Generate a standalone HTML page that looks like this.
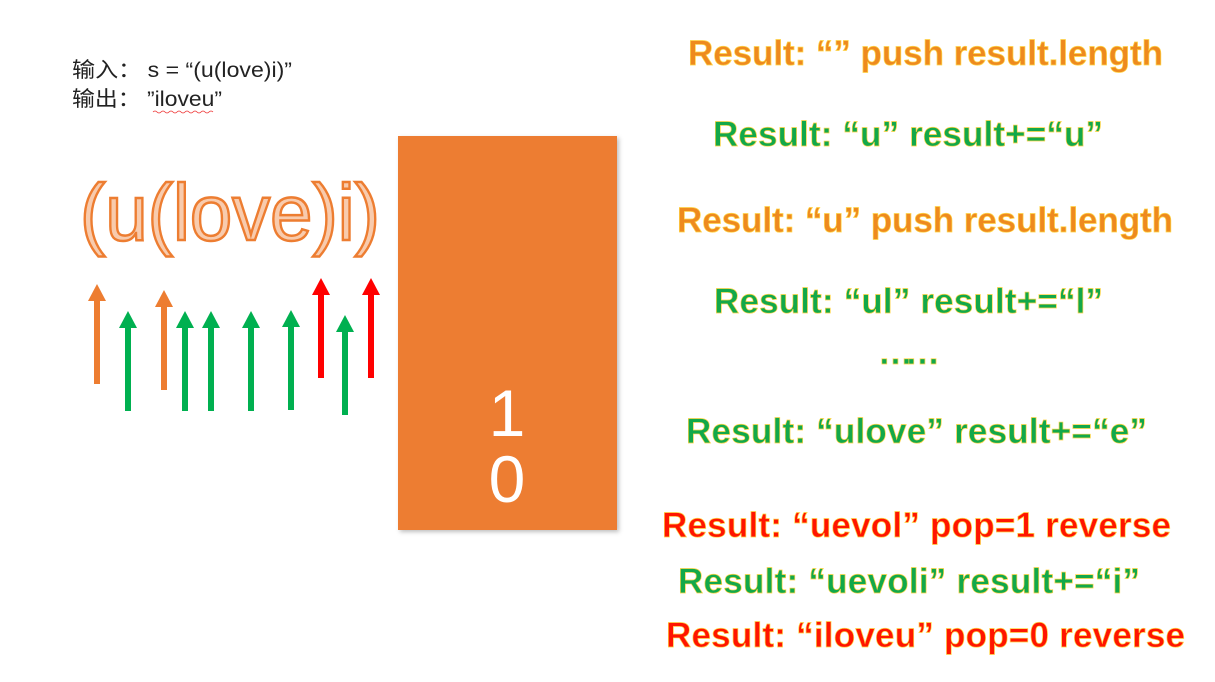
<!DOCTYPE html>
<html><head><meta charset="utf-8"><style>
html,body{margin:0;padding:0;background:#fff;width:1215px;height:682px;overflow:hidden}
svg{display:block}
</style></head><body>
<svg width="1215" height="682" xmlns="http://www.w3.org/2000/svg">
<defs>
<filter id="sh" x="-10%" y="-10%" width="130%" height="130%"><feDropShadow dx="2" dy="2" stdDeviation="2" flood-color="#000" flood-opacity="0.25"/></filter>
</defs>
<text x="72" y="77" font-family="Liberation Sans, Noto Sans CJK SC, sans-serif" font-size="21" fill="#222" textLength="220" lengthAdjust="spacingAndGlyphs">输入：  s = “(u(love)i)”</text>
<text x="72" y="106" font-family="Liberation Sans, Noto Sans CJK SC, sans-serif" font-size="21" fill="#222" textLength="150" lengthAdjust="spacingAndGlyphs">输出：  ”iloveu”</text>
<path d="M153 112 q2 -2 4 0 t4 0 t4 0 t4 0 t4 0 t4 0 t4 0 t4 0 t4 0 t4 0 t4 0 t4 0 t4 0 t4 0 t4 0" stroke="#e33" stroke-width="0.8" fill="none"/>

<text x="80" y="240" font-family="Liberation Sans, sans-serif" font-size="80" fill="#F8CBAD" stroke="#ED7D31" stroke-width="2.5" textLength="300" lengthAdjust="spacingAndGlyphs">(u(love)i)</text>

<rect x="398" y="136" width="219" height="394" fill="#ED7D31" filter="url(#sh)"/>
<text x="507" y="436" text-anchor="middle" font-family="Liberation Sans, sans-serif" font-size="66" fill="#fff">1</text>
<text x="507" y="502" text-anchor="middle" font-family="Liberation Sans, sans-serif" font-size="66" fill="#fff">0</text>

<g>
<rect x="94" y="300" width="6" height="84" fill="#ED7D31"/><polygon points="97,284 88,301 106,301" fill="#ED7D31"/>
<rect x="125" y="327" width="6" height="84" fill="#00B050"/><polygon points="128,311 119,328 137,328" fill="#00B050"/>
<rect x="161" y="306" width="6" height="84" fill="#ED7D31"/><polygon points="164,290 155,307 173,307" fill="#ED7D31"/>
<rect x="182" y="327" width="6" height="84" fill="#00B050"/><polygon points="185,311 176,328 194,328" fill="#00B050"/>
<rect x="208" y="327" width="6" height="84" fill="#00B050"/><polygon points="211,311 202,328 220,328" fill="#00B050"/>
<rect x="248" y="327" width="6" height="84" fill="#00B050"/><polygon points="251,311 242,328 260,328" fill="#00B050"/>
<rect x="288" y="326" width="6" height="84" fill="#00B050"/><polygon points="291,310 282,327 300,327" fill="#00B050"/>
<rect x="318" y="294" width="6" height="84" fill="#FF0000"/><polygon points="321,278 312,295 330,295" fill="#FF0000"/>
<rect x="342" y="331" width="6" height="84" fill="#00B050"/><polygon points="345,315 336,332 354,332" fill="#00B050"/>
<rect x="368" y="294" width="6" height="84" fill="#FF0000"/><polygon points="371,278 362,295 380,295" fill="#FF0000"/>
</g>

<g font-family="Liberation Sans, sans-serif" font-weight="bold" font-size="35" stroke="#FFD54A" stroke-width="0.7" lengthAdjust="spacingAndGlyphs">
<text x="688" y="65" fill="#EE8A1E" textLength="475">Result: “” push result.length</text>
<text x="713" y="146" fill="#12A84A" textLength="390">Result: “u” result+=“u”</text>
<text x="677" y="232" fill="#EE8A1E" textLength="496">Result: “u” push result.length</text>
<text x="714" y="313" fill="#12A84A" textLength="389">Result: “ul” result+=“l”</text>
<text x="878" y="364" fill="#12A84A" textLength="62">……</text>
<text x="686" y="443" fill="#12A84A" textLength="461">Result: “ulove” result+=“e”</text>
<text x="662" y="537" fill="#FF1500" textLength="509">Result: “uevol” pop=1 reverse</text>
<text x="678" y="593" fill="#12A84A" textLength="462">Result: “uevoli” result+=“i”</text>
<text x="666" y="647" fill="#FF1500" textLength="519">Result: “iloveu” pop=0 reverse</text>
</g>
</svg>
</body></html>
